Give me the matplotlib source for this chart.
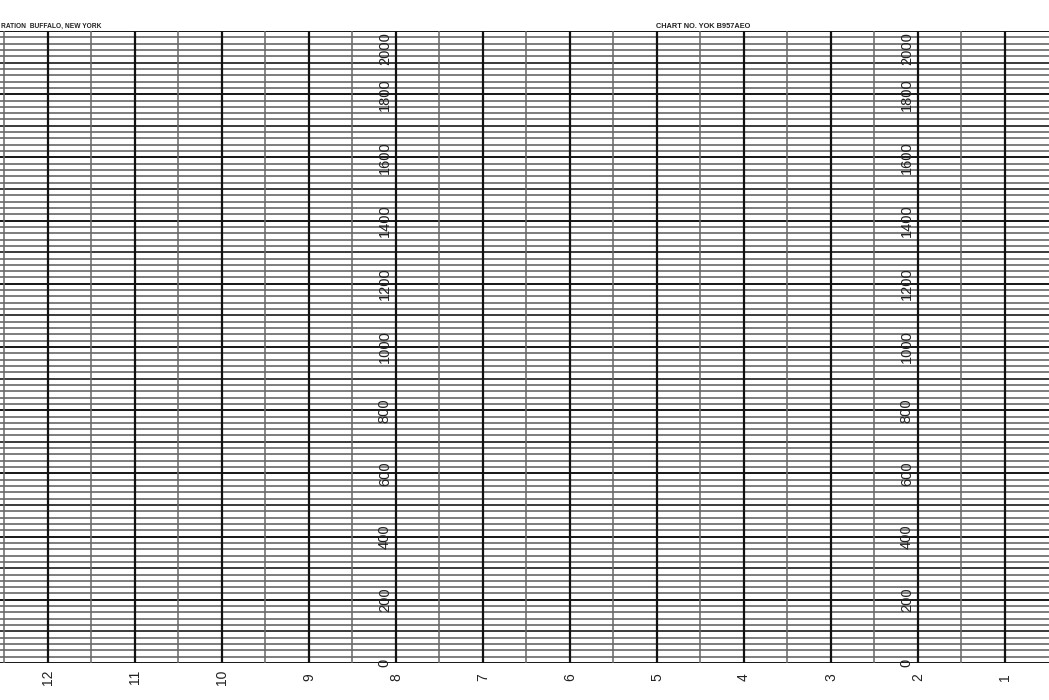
import numpy as np
import matplotlib
matplotlib.use('Agg')
import matplotlib.pyplot as plt

plt.rcParams['font.family'] = ['Liberation Sans', 'DejaVu Sans']

# hour columns (chart runs right to left in time)
hours = [12, 11, 10, 9, 8, 7, 6, 5, 4, 3, 2, 1]
hour_labels = ['12', '11', '10', '9', '8', '7', '6', '5', '4', '3', '2', '1']
half_hours = [12.5, 11.5, 10.5, 9.5, 8.5, 7.5, 6.5, 5.5, 4.5, 3.5, 2.5, 1.5]

# value scale
scale_values = [0, 200, 400, 600, 800, 1000, 1200, 1400, 1600, 1800, 2000]
scale_labels = ['0', '200', '400', '600', '800', '1000', '1200', '1400', '1600', '1800', '2000']
scale_columns = [8, 2]
minor_values = list(range(0, 2001, 20))
mid_values = list(range(100, 2000, 200))

header_left = 'RATION  BUFFALO, NEW YORK'
header_right = 'CHART NO. YOK B957AEO'

fig = plt.figure(figsize=(10.49, 7.0), dpi=100)
ax = fig.add_axes([0, 37 / 700, 1, 632 / 700])
ax.set_xlim(12 + 48 / 87, 1 - 44 / 87)
ax.set_ylim(0, 2000)
ax.axis('off')

# horizontal rulings
for v in minor_values:
    ax.axhline(v, color='#5a5a5a', lw=1.1, zorder=1)
for v in mid_values:
    ax.axhline(v, color='#333333', lw=1.2, zorder=2)
for v in scale_values:
    ax.axhline(v, color='#1a1a1a', lw=1.4, zorder=3)

# vertical rulings
for h in half_hours:
    ax.axvline(h, color='#666666', lw=1.1, zorder=4)
for h in hours:
    ax.axvline(h, color='#111111', lw=1.6, zorder=5)

# scale numbers beside the 8 and 2 hour lines
for col in scale_columns:
    for v, lab in zip(scale_values, scale_labels):
        va = 'top' if v == 2000 else 'center'
        dy = -1 if v == 2000 else 0
        ax.annotate(lab, xy=(col, v), xytext=(-3, dy), textcoords='offset points',
                    ha='right', va=va, rotation=90, fontsize=10.5, color='#222222',
                    annotation_clip=False, zorder=6)

# hour numbers under the chart
for h, lab in zip(hours, hour_labels):
    ax.annotate(lab, xy=(h, 0), xytext=(0, -10), textcoords='offset points',
                ha='center', va='center', rotation=90, fontsize=10,
                color='#222222', annotation_clip=False)

fig.text(1 / 1049, 1 - 30 / 700, header_left, ha='left', va='bottom',
         fontsize=4.8, fontweight='bold', color='#222222')
fig.text(656 / 1049, 1 - 30 / 700, header_right, ha='left', va='bottom',
         fontsize=5.3, fontweight='bold', color='#222222')

fig.savefig('out.png', dpi=100, facecolor='white')
